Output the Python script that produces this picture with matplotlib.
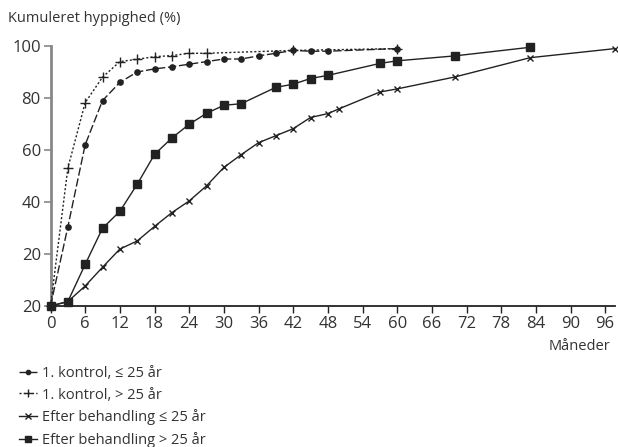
import matplotlib
matplotlib.use("Agg")
import matplotlib.pyplot as plt

plt.rcParams['font.family'] = ['Open Sans', 'DejaVu Sans']

# Data (months, cumulative %)
x_k1_le25 = [0, 3, 6, 9, 12, 15, 18, 21, 24, 27, 30, 33, 36, 39, 42, 45, 48, 60]
y_k1_le25 = [0, 30.4, 62, 79, 86, 90, 91.2, 92, 93, 94, 95, 95, 96.2, 97.2, 98.3, 98, 98, 99]

x_k1_gt25 = [0, 3, 6, 9, 12, 15, 18, 21, 24, 27, 42, 60]
y_k1_gt25 = [0, 53, 78.2, 88, 94, 94.9, 95.9, 96.3, 97.2, 97.2, 98.3, 99]

x_eb_le25 = [0, 3, 6, 9, 12, 15, 18, 21, 24, 27, 30, 33, 36, 39, 42, 45, 48, 50, 57, 60, 70, 83, 97.7]
y_eb_le25 = [0, 1.7, 7.7, 14.9, 21.9, 25, 30.6, 35.9, 40.4, 46.2, 53.3, 58.2, 62.8, 65.5, 68.2, 72.5, 74, 75.9, 82.3, 83.5, 88.1, 95.5, 99]

x_eb_gt25 = [0, 3, 6, 9, 12, 15, 18, 21, 24, 27, 30, 33, 39, 42, 45, 48, 57, 60, 70, 83]
y_eb_gt25 = [0, 1.7, 16, 29.9, 36.4, 46.8, 58.3, 64.6, 69.9, 74.1, 77.2, 77.8, 84.1, 85.3, 87.5, 88.7, 93.3, 94.3, 96.2, 99.5]

labels = ["1. kontrol, \u2264 25 år", "1. kontrol, > 25 år",
          "Efter behandling \u2264 25 år", "Efter behandling > 25 år"]

x_ticks = list(range(0, 97, 6))
y_ticks = [0, 20, 40, 60, 80, 100]
y_tick_labels = ["20", "20", "40", "60", "80", "100"]

fig = plt.figure(figsize=(6.18, 4.47), dpi=100)
ax = fig.add_axes([50.5/618, 141/447, 564.5/618, 260/447])

lc = '#222222'
ax.plot(x_k1_le25, y_k1_le25, color=lc, lw=1.0, ls=(0, (6, 2)), marker='o', ms=3.8,
        label=labels[0], zorder=3)
ax.plot(x_k1_gt25, y_k1_gt25, color=lc, lw=1.0, ls=(0, (1.5, 1.5)), marker='+', ms=7, mew=1.0,
        label=labels[1], zorder=3)
ax.plot(x_eb_le25, y_eb_le25, color=lc, lw=1.0, ls='-', marker='x', ms=5, mew=1.0,
        label=labels[2], zorder=3)
ax.plot(x_eb_gt25, y_eb_gt25, color=lc, lw=1.0, ls='-', marker='s', ms=5.5,
        label=labels[3], zorder=3)

ax.set_xlim(0, 97.7)
ax.set_ylim(0, 100)
ax.set_xticks(x_ticks)
ax.set_yticks(y_ticks)
ax.set_yticklabels(y_tick_labels)

for s in ['top', 'right']:
    ax.spines[s].set_visible(False)
ax.spines['left'].set_color('#888888')
ax.spines['left'].set_linewidth(2.0)
ax.spines['bottom'].set_color('#222222')
ax.spines['bottom'].set_linewidth(1.3)
ax.spines['left'].set_zorder(1)
ax.tick_params(axis='y', colors='#888888', labelcolor='#333333', length=5, width=1.2,
               labelsize=12, pad=2)
ax.tick_params(axis='x', colors='#222222', labelcolor='#333333', length=5, width=1.0,
               labelsize=12, pad=2)
for ln in ax.lines:
    ln.set_clip_on(False)

fig.text(8/618, 1 - 19/447, "Kumuleret hyppighed (%)", fontsize=10.5, color='#333333',
         ha='left', va='center')
fig.text(610/618, 1 - 346/447, "Måneder", fontsize=10.5, color='#333333',
         ha='right', va='center')

h, l = ax.get_legend_handles_labels()
leg = fig.legend(h, l, loc='upper left', bbox_to_anchor=(19/618, 1 - 366/447),
                 frameon=False, fontsize=10.5, handlelength=1.2, handletextpad=0.35,
                 labelspacing=0.45, borderaxespad=0, borderpad=0, labelcolor='#333333',
                 markerscale=0.8)

fig.savefig("out.png", dpi=100)
